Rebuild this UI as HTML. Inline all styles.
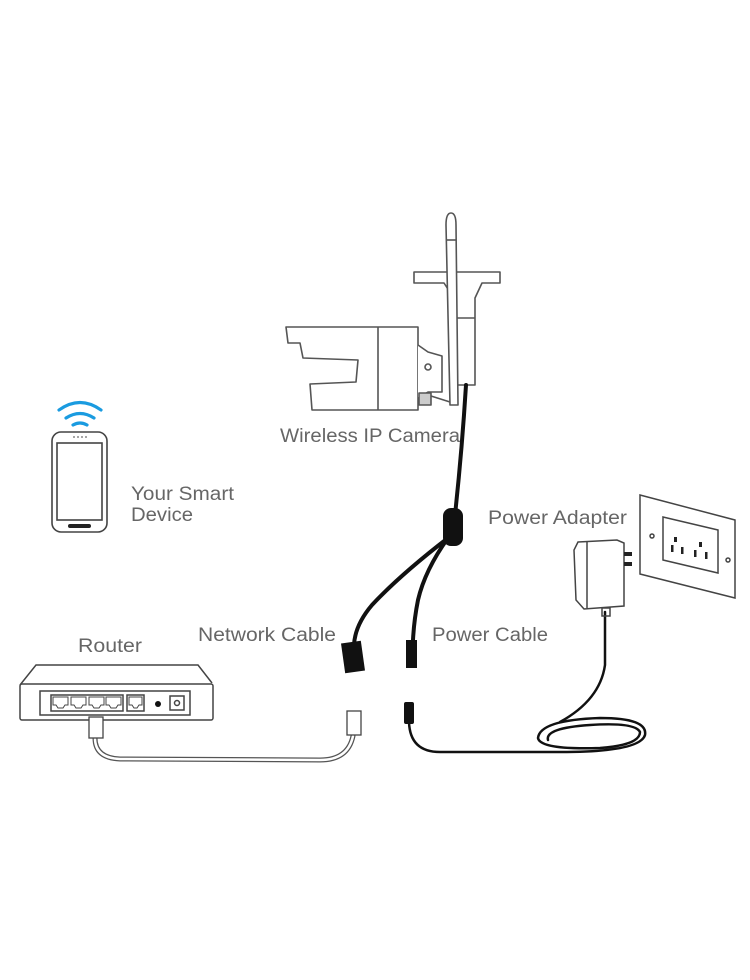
<!DOCTYPE html>
<html><head><meta charset="utf-8"><style>
html,body{margin:0;padding:0;background:#fff;}
svg{display:block}
text{font-family:"Liberation Sans","DejaVu Sans",sans-serif;fill:#666;font-size:19px}
</style></head><body>
<svg width="750" height="980" viewBox="0 0 750 980" xmlns="http://www.w3.org/2000/svg">
<g fill="none" stroke="#555" stroke-width="1.6" stroke-linejoin="round">
<path d="M414,272 L500,272 L500,283 L482,283 L475,298 L475,385 L455,385 L455,300 L444,283 L414,283 Z" fill="#fff"/>
<line x1="455" y1="318" x2="475" y2="318"/>
<path d="M286,327 L418,327 L418,410 L312,410 L310,384 L356,382 L358,360 L303,358 L300,343 L288,343 Z" fill="#fff"/>
<line x1="378" y1="327" x2="378" y2="410"/>
<path d="M418,345 L428,352 L442,356 L442,392 L428,392 L418,398" fill="#fff"/>
<circle cx="428" cy="367" r="3"/>
<rect x="419" y="393" width="12" height="12" fill="#ccc"/>
<path d="M446,225 Q446,213 451,213 Q456,213 456,225 L458,405 L450,405 Z" fill="#fff"/>
<line x1="447" y1="240" x2="456" y2="240"/>
<path d="M431,396 L450,402"/>
</g>
<g fill="none" stroke="#111" stroke-linecap="round">
<path d="M466,385 Q462,450 455,515" stroke-width="4"/>
<path d="M448,538 Q400,575 372,605 Q355,625 354,645" stroke-width="4"/>
<path d="M448,538 Q425,570 418,600 Q414,620 413,640" stroke-width="4"/>
</g>
<rect x="443" y="508" width="20" height="38" rx="8" fill="#111"/>
<rect x="343" y="642" width="20" height="30" fill="#111" transform="rotate(-8 353 657)"/>
<rect x="406" y="640" width="11" height="28" fill="#111"/>
<g fill="none" stroke="#444" stroke-width="1.6">
<rect x="52" y="432" width="55" height="100" rx="9"/>
<rect x="57" y="443" width="45" height="77"/>
<rect x="68" y="524" width="23" height="4" rx="2" fill="#222" stroke="none"/>
</g>
<g fill="#666"><circle cx="74" cy="437" r="0.9"/><circle cx="78" cy="437" r="0.9"/><circle cx="82" cy="437" r="0.9"/><circle cx="86" cy="437" r="0.9"/></g>
<g fill="none" stroke="#1a9be0" stroke-width="3.2" stroke-linecap="round">
<path d="M59,410 Q80,395 101,410"/>
<path d="M66,418 Q80,409 94,418"/>
<path d="M73,425 Q80,421 87,425"/>
</g>
<g fill="none" stroke="#444" stroke-width="1.5">
<path d="M20,685 L36,665 L198,665 L212,683" fill="#fff"/>
<rect x="20" y="684" width="193" height="36" rx="2" fill="#fff"/>
<rect x="40" y="691" width="150" height="24"/>
<rect x="51" y="695" width="72" height="16"/>
<rect x="127" y="695" width="17" height="16"/>
<rect x="170" y="696" width="14" height="14"/>
<circle cx="177" cy="703" r="2.5"/>
<path d="M53,697 h15 v8 h-3 l-2,3 h-5 l-2,-3 h-3z M71,697 h15 v8 h-3 l-2,3 h-5 l-2,-3 h-3z M89,697 h15 v8 h-3 l-2,3 h-5 l-2,-3 h-3z M106,697 h15 v8 h-3 l-2,3 h-5 l-2,-3 h-3z M129,697 h13 v8 h-3 l-2,3 h-3 l-2,-3 h-3z" stroke-width="1"/>
</g>
<circle cx="158" cy="704" r="3" fill="#111"/>
<g fill="none" stroke-linecap="round">
<path d="M95,738 Q95,758 120,759 L320,760 Q348,760 353,736" stroke="#555" stroke-width="5"/>
<path d="M95,738 Q95,758 120,759 L320,760 Q348,760 353,736" stroke="#fff" stroke-width="2.5"/>
</g>
<g fill="#fff" stroke="#444" stroke-width="1.3">
<rect x="89" y="717" width="14" height="21"/>
<rect x="347" y="711" width="14" height="24"/>
</g>
<g fill="none" stroke="#111" stroke-width="2.5" stroke-linecap="round">
<path d="M409,722 Q410,752 440,752 L560,752 Q640,752 645,735 Q648,718 600,718 Q540,720 538,738 Q540,750 600,748 Q640,745 640,732 Q635,722 590,725 Q545,728 548,740"/>
<path d="M560,722 Q600,700 605,665 L605,612"/>
</g>
<rect x="404" y="702" width="10" height="22" rx="2" fill="#111"/>
<g fill="none" stroke="#444" stroke-width="1.5">
<path d="M578,542 L617,540 L624,543 L624,606 L584,609 L576,600 L574,550 Z" fill="#fff"/>
<line x1="587" y1="541" x2="587" y2="608"/>
<rect x="602" y="608" width="8" height="8"/>
<path d="M640,495 L735,520 L735,598 L640,574 Z" fill="#fff"/>
<path d="M663,517 L718,530 L718,573 L663,560 Z"/>
<circle cx="652" cy="536" r="2"/><circle cx="728" cy="560" r="2"/>
</g>
<g fill="#222">
<rect x="624" y="552" width="8" height="4"/><rect x="624" y="562" width="8" height="4"/>
<rect x="674" y="537" width="3" height="5"/><rect x="671" y="545" width="2.5" height="7"/><rect x="681" y="547" width="2.5" height="7"/>
<rect x="699" y="542" width="3" height="5"/><rect x="694" y="550" width="2.5" height="7"/><rect x="705" y="552" width="2.5" height="7"/>
</g>
<text x="280" y="442" textLength="180" lengthAdjust="spacingAndGlyphs">Wireless IP Camera</text>
<text x="131" y="500" textLength="103" lengthAdjust="spacingAndGlyphs">Your Smart</text>
<text x="131" y="521" textLength="62" lengthAdjust="spacingAndGlyphs">Device</text>
<text x="488" y="524" textLength="139" lengthAdjust="spacingAndGlyphs">Power Adapter</text>
<text x="198" y="641" textLength="138" lengthAdjust="spacingAndGlyphs">Network Cable</text>
<text x="432" y="641" textLength="116" lengthAdjust="spacingAndGlyphs">Power Cable</text>
<text x="78" y="652" textLength="64" lengthAdjust="spacingAndGlyphs">Router</text>
</svg>
</body></html>
